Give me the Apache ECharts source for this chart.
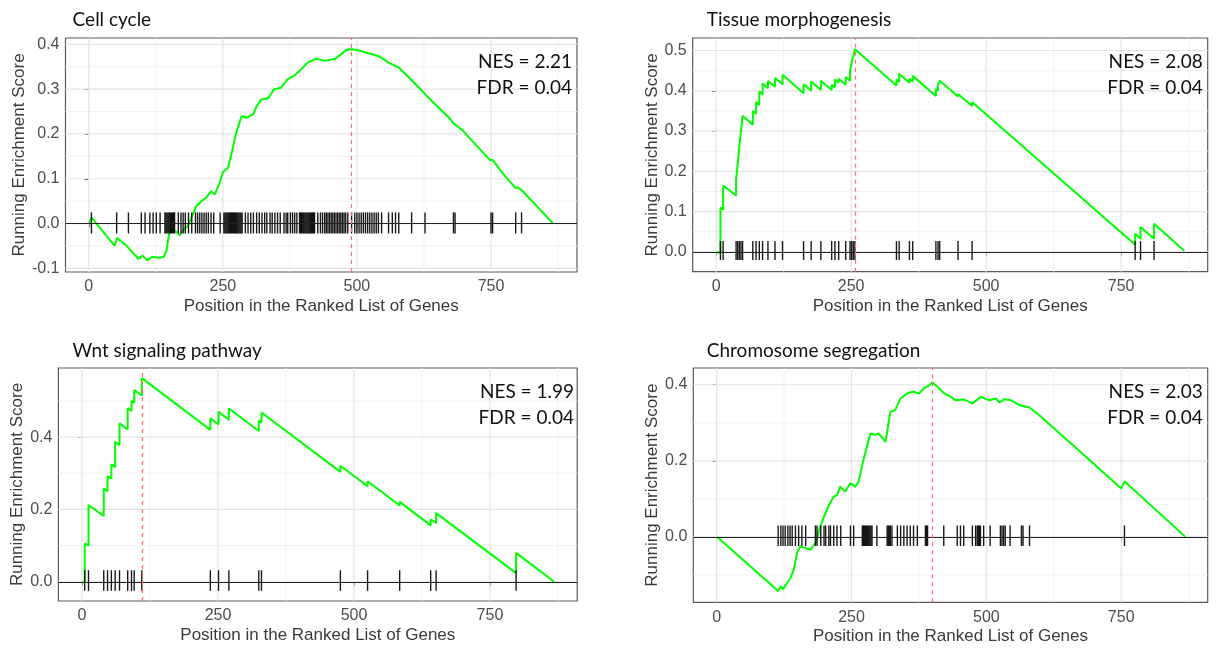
<!DOCTYPE html>
<html>
<head>
<meta charset="utf-8">
<title>Running enrichment score</title>
<script src="https://cdn.jsdelivr.net/npm/echarts@6/dist/echarts.min.js"></script>
<style>
    html, body { margin: 0; padding: 0; background: #fff; }
    #chart { width: 1220px; height: 650px; }
</style>
</head>
<body>
<div id="chart"></div>
<script>

// values
var panelTitles = ['Cell cycle', 'Tissue morphogenesis', 'Wnt signaling pathway', 'Chromosome segregation'];
var nesValues = ['2.21', '2.08', '1.99', '2.03'];
var fdrValues = ['0.04', '0.04', '0.04', '0.04'];

var xTicks = [0, 250, 500, 750];
var xMinorTicks = [125, 375, 625, 875];
var xRange = [-43.35, 910.35];

var yTicks = [
    [-0.1, 0, 0.1, 0.2, 0.3, 0.4],
    [0, 0.1, 0.2, 0.3, 0.4, 0.5],
    [0, 0.2, 0.4],
    [0, 0.2, 0.4]
];
var yMinorTicks = [
    [-0.05, 0.05, 0.15, 0.25, 0.35],
    [0.05, 0.15, 0.25, 0.35, 0.45],
    [0.1, 0.3, 0.5],
    [-0.1, 0.1, 0.3]
];
var yRanges = [[-0.108, 0.414], [-0.049, 0.531], [-0.053, 0.591], [-0.172, 0.444]];

// position of the maximum enrichment score (dashed line)
var peakPositions = [489, 258, 110, 399];
// extent of the hit marks around zero
var rugLow = [-0.022, -0.02, -0.025, -0.024];
var rugHigh = [0.025, 0.027, 0.032, 0.03];

var cellCycleCurve = [
    [1, 0], [5, 0.014], [48, -0.049], [53, -0.032], [70, -0.049], [93, -0.079], [100, -0.071],
    [109, -0.082], [118, -0.074], [131, -0.076], [140, -0.074], [145, -0.059], [150, -0.022],
    [156, -0.013], [164, -0.019], [170, -0.026], [178, -0.011], [184, -0.007], [191, 0.012],
    [200, 0.038], [210, 0.05], [219, 0.058], [228, 0.072], [235, 0.065], [244, 0.091],
    [250, 0.114], [260, 0.125], [266, 0.155], [275, 0.203], [285, 0.24], [294, 0.236],
    [307, 0.244], [313, 0.262], [322, 0.277], [335, 0.28], [345, 0.299], [358, 0.303],
    [371, 0.322], [383, 0.33], [396, 0.344], [408, 0.359], [424, 0.368], [439, 0.363],
    [458, 0.367], [471, 0.378], [480, 0.387], [490, 0.389], [502, 0.387], [518, 0.381],
    [537, 0.375], [546, 0.37], [559, 0.359], [578, 0.348], [597, 0.326], [616, 0.303],
    [634, 0.28], [653, 0.258], [672, 0.236], [680, 0.224], [683, 0.226], [697, 0.208],
    [722, 0.175], [748, 0.142], [750, 0.145], [753, 0.142], [772, 0.112], [796, 0.079],
    [800, 0.081], [807, 0.075], [810, 0.074], [866, 0]
];
var cellCycleHits = [
    5, 52, 74, 98, 105, 114, 120, 126, 133,
    142, 144, 146, 148, 150, 152, 154, 156, 158, 160,
    167, 172, 176, 180, 186, 192,
    199, 203, 207, 211, 215, 219, 223, 228, 233,
    245, 252, 254, 256, 258, 260, 262, 264, 266, 268, 270, 272, 274, 276, 278, 280, 282, 284, 286,
    292, 297, 302, 307, 313, 318, 323, 328, 332, 338, 342, 347, 352, 357,
    364, 368, 371, 376, 380, 384, 388, 393, 395, 397, 399, 401, 403, 405, 407, 409, 411, 413,
    415, 417, 419, 421, 427, 432, 436, 440, 443, 446, 449, 452, 455, 458, 461, 464, 467, 470,
    473, 476, 479, 483, 490, 496, 500, 504, 508, 512, 516, 520, 524, 528, 532, 536, 540, 546,
    559, 566, 572, 578, 602, 627, 680, 683, 750, 753, 796, 807
];

var tissueCurve = [
    [1, 0], [8, -0.003], [8, 0.11], [13, 0.105], [13, 0.165], [37, 0.14], [37, 0.18],
    [40, 0.177], [40, 0.22], [43, 0.217], [43, 0.262], [46, 0.259], [46, 0.3], [49, 0.297],
    [49, 0.338], [68, 0.316], [68, 0.35], [74, 0.343], [74, 0.372], [80, 0.365], [80, 0.398],
    [86, 0.391], [86, 0.418], [96, 0.406], [96, 0.424], [109, 0.41], [109, 0.432],
    [123, 0.416], [123, 0.44], [162, 0.394], [162, 0.416], [176, 0.4], [176, 0.423],
    [194, 0.402], [194, 0.425], [214, 0.402], [214, 0.415], [220, 0.408], [220, 0.428],
    [227, 0.42], [227, 0.43], [240, 0.415], [240, 0.434], [248, 0.425], [248, 0.45],
    [251, 0.447], [251, 0.47], [254, 0.467], [254, 0.485], [257, 0.482], [257, 0.503],
    [334, 0.413], [334, 0.428], [339, 0.422], [339, 0.442], [358, 0.42], [358, 0.43],
    [364, 0.423], [364, 0.437], [407, 0.387], [407, 0.405], [411, 0.4], [411, 0.415],
    [414, 0.412], [414, 0.425], [448, 0.386], [448, 0.392], [474, 0.362], [474, 0.372],
    [776, 0.018], [776, 0.045], [786, 0.033], [786, 0.062], [811, 0.033], [811, 0.07],
    [867, 0.003]
];
var tissueHits = [
    8, 13, 37, 40, 43, 46, 49, 68, 74, 80, 86, 96, 109, 123, 162, 176, 194,
    214, 220, 227, 240, 248, 251, 254, 257, 334, 339, 358, 364, 407, 411, 414,
    448, 474, 776, 786, 811
];

var wntCurve = [
    [1, 0], [5, -0.002], [5, 0.106], [12, 0.1], [12, 0.212], [40, 0.182], [40, 0.258],
    [47, 0.25], [47, 0.292], [54, 0.285], [54, 0.325], [61, 0.317], [61, 0.387],
    [69, 0.378], [69, 0.438], [84, 0.421], [84, 0.48], [91, 0.472], [91, 0.5],
    [96, 0.495], [96, 0.53], [110, 0.515], [110, 0.563], [236, 0.42], [236, 0.452],
    [251, 0.435], [251, 0.47], [270, 0.448], [270, 0.479], [325, 0.417], [325, 0.445],
    [330, 0.44], [330, 0.468], [475, 0.304], [475, 0.321], [525, 0.264], [525, 0.278],
    [584, 0.211], [584, 0.221], [641, 0.156], [641, 0.173], [651, 0.162], [651, 0.19],
    [798, 0.024], [798, 0.08], [868, 0]
];
var wntHits = [5, 12, 40, 47, 54, 61, 69, 84, 91, 96, 110, 236, 251, 270, 325, 330, 475, 525, 584, 641, 651, 798];

var chromCurve = [
    [1, 0], [114, -0.142], [119, -0.13], [123, -0.138], [127, -0.128], [132, -0.118],
    [137, -0.108], [143, -0.086], [149, -0.042], [155, -0.025], [164, -0.029], [174, -0.034],
    [183, -0.016], [192, 0.027], [198, 0.049], [207, 0.08], [217, 0.106], [223, 0.11],
    [229, 0.132], [238, 0.119], [248, 0.141], [257, 0.132], [263, 0.145], [272, 0.202],
    [285, 0.272], [294, 0.268], [300, 0.272], [313, 0.25], [322, 0.329], [331, 0.334],
    [341, 0.364], [353, 0.377], [365, 0.382], [375, 0.377], [384, 0.39], [394, 0.399],
    [400, 0.406], [409, 0.395], [422, 0.377], [434, 0.368], [443, 0.359], [459, 0.361],
    [474, 0.351], [490, 0.368], [505, 0.359], [518, 0.364], [524, 0.353], [533, 0.362],
    [546, 0.359], [562, 0.346], [580, 0.34], [598, 0.32], [670, 0.229], [750, 0.127],
    [756, 0.146], [869, 0]
];
var chromHits = [
    114, 119, 123, 127, 132, 136, 140, 146, 152, 158, 165, 183, 186, 193, 199, 202, 208,
    211, 217, 223, 230, 248, 254, 270, 272, 274, 276, 278, 280, 282, 284, 286, 288, 297,
    316, 318, 320, 322, 325, 335, 341, 347, 353, 359, 365, 372, 387, 389, 391, 421, 446,
    452, 458, 474, 480, 483, 485, 487, 489, 495, 507, 526, 529, 532, 535, 544, 565, 568,
    580, 756
];

var curves = [cellCycleCurve, tissueCurve, wntCurve, chromCurve];
var hits = [cellCycleHits, tissueHits, wntHits, chromHits];

// panel layout in pixels: plot area and text anchors
var panelBoxes = [
    {left: 65.5, top: 38, width: 511.5, height: 234},
    {left: 692.7, top: 38, width: 515, height: 233.7},
    {left: 58.4, top: 368, width: 518.8, height: 233},
    {left: 693.3, top: 368, width: 514.4, height: 234.3}
];
var titleAnchors = [[72.6, 20], [706.8, 20], [72.6, 351], [706.8, 351]];
// centre of the first line of the NES / FDR block
var statAnchors = [[572, 62], [1202.7, 62], [574, 392], [1202.7, 392]];
var yNameGaps = [38, 31, 30, 31];

var chart = echarts.init(document.getElementById('chart'));

var tickFont = 'Liberation Sans';
var textFont = 'Lato';

/**
 * grid lines drawn through the panel's own axes
 *
 * @param {number} i panel index
 * @param {number[]} xs x positions of vertical lines
 * @param {number[]} ys y positions of horizontal lines
 * @param {boolean} major major or minor lines
 * @return {Object} custom series
 */
function gridLines(i, xs, ys, major) {
    var data = [];
    xs.forEach(function (x) {
        data.push([x, 0, 0]);
    });
    ys.forEach(function (y) {
        data.push([0, y, 1]);
    });
    return {
        type: 'custom',
        xAxisIndex: i,
        yAxisIndex: i,
        silent: true,
        z: 1,
        data: data,
        renderItem: function (params, api) {
            var cs = params.coordSys;
            var p = api.coord([api.value(0), api.value(1)]);
            var shape = api.value(2)
                ? {x1: cs.x, y1: p[1], x2: cs.x + cs.width, y2: p[1]}
                : {x1: p[0], y1: cs.y, x2: p[0], y2: cs.y + cs.height};
            return {
                type: 'line',
                shape: shape,
                style: {
                    stroke: major ? '#e4e4e4' : '#f1f1f1',
                    lineWidth: major ? 1.2 : 0.9
                }
            };
        }
    };
}

/**
 * vertical hit marks around zero
 *
 * @param {number} i panel index
 * @return {Object} custom series
 */
function hitMarks(i) {
    var lo = rugLow[i];
    var hi = rugHigh[i];
    return {
        type: 'custom',
        xAxisIndex: i,
        yAxisIndex: i,
        silent: true,
        z: 4,
        data: hits[i].map(function (h) {
            return [h, lo, hi];
        }),
        encode: {x: 0, y: [1, 2]},
        renderItem: function (params, api) {
            var p1 = api.coord([api.value(0), api.value(1)]);
            var p2 = api.coord([api.value(0), api.value(2)]);
            return {
                type: 'line',
                shape: {x1: p1[0], y1: p1[1], x2: p2[0], y2: p2[1]},
                style: {stroke: '#000', lineWidth: 1.4, opacity: 0.9}
            };
        }
    };
}

var grids = [];
var xAxes = [];
var yAxes = [];
var series = [];
var graphics = [];

for (var i = 0; i < 4; ++i) {
    var box = panelBoxes[i];
    grids.push({
        left: box.left,
        top: box.top,
        width: box.width,
        height: box.height,
        show: true,
        backgroundColor: '#fff',
        borderColor: '#5a5a5a',
        borderWidth: 1.2
    });

    xAxes.push({
        gridIndex: i,
        type: 'value',
        min: xRange[0],
        max: xRange[1],
        axisLine: {show: false},
        splitLine: {show: false},
        axisTick: {
            show: true,
            customValues: xTicks,
            length: 4,
            lineStyle: {color: '#444'}
        },
        axisLabel: {
            customValues: xTicks,
            margin: 7,
            fontSize: 16,
            fontFamily: tickFont,
            color: '#4d4d4d'
        },
        name: 'Position in the Ranked List of Genes',
        nameLocation: 'middle',
        nameGap: 26,
        nameTextStyle: {fontSize: 17, fontFamily: tickFont, color: '#3a3a3a'}
    });

    yAxes.push({
        gridIndex: i,
        type: 'value',
        min: yRanges[i][0],
        max: yRanges[i][1],
        axisLine: {show: false},
        splitLine: {show: false},
        axisTick: {
            show: true,
            customValues: yTicks[i],
            length: 4,
            lineStyle: {color: '#444'}
        },
        axisLabel: {
            customValues: yTicks[i],
            margin: 6,
            fontSize: 16,
            fontFamily: tickFont,
            color: '#4d4d4d',
            formatter: function (v) {
                return v.toFixed(1);
            }
        },
        name: 'Running Enrichment Score',
        nameLocation: 'middle',
        nameRotate: 90,
        nameGap: yNameGaps[i],
        nameTextStyle: {fontSize: 17, fontFamily: tickFont, color: '#3a3a3a'}
    });

    series.push(gridLines(i, xMinorTicks, yMinorTicks[i], false));
    series.push(gridLines(i, xTicks, yTicks[i], true));

    series.push({
        type: 'line',
        xAxisIndex: i,
        yAxisIndex: i,
        data: curves[i],
        symbol: 'none',
        z: 3,
        lineStyle: {color: '#00ff00', width: 2},
        markLine: {
            silent: true,
            symbol: ['none', 'none'],
            label: {show: false},
            animation: false,
            data: [
                {yAxis: 0, lineStyle: {color: '#222', width: 1.2, type: 'solid'}},
                {xAxis: peakPositions[i], lineStyle: {color: '#ff6b6b', width: 1.2, type: [4, 4]}}
            ]
        }
    });

    series.push(hitMarks(i));

    graphics.push({
        type: 'text',
        x: titleAnchors[i][0],
        y: titleAnchors[i][1],
        style: {
            text: panelTitles[i],
            font: '19px ' + textFont,
            fill: '#111',
            align: 'left',
            verticalAlign: 'middle'
        }
    });
    graphics.push({
        type: 'text',
        x: statAnchors[i][0],
        y: statAnchors[i][1] - 13,
        z: 10,
        style: {
            text: 'NES = ' + nesValues[i] + '\nFDR = ' + fdrValues[i],
            font: '19px ' + textFont,
            lineHeight: 26,
            fill: '#111',
            align: 'right',
            verticalAlign: 'top'
        }
    });
}

chart.setOption({
    animation: false,
    backgroundColor: '#fff',
    grid: grids,
    xAxis: xAxes,
    yAxis: yAxes,
    series: series,
    graphic: graphics
});

</script>
</body>
</html>
